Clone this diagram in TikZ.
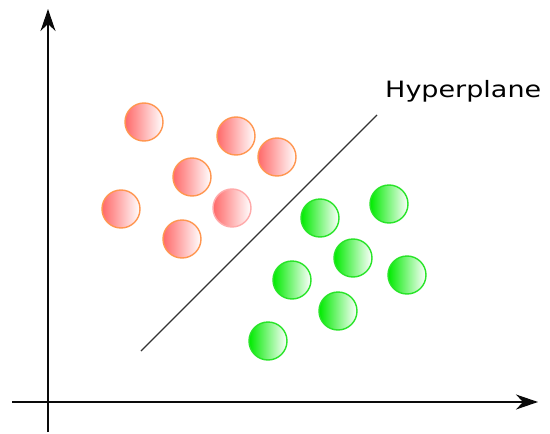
\documentclass[tikz,border=0pt]{standalone}
\usepackage{fontspec}
\setmainfont{DejaVu Sans}
\usetikzlibrary{arrows.meta}
\definecolor{redfill}{RGB}{255,105,105}
\definecolor{redline}{RGB}{255,150,80}
\definecolor{pinkline}{RGB}{255,170,170}
\definecolor{greenfill}{RGB}{0,235,0}
\definecolor{greenline}{RGB}{40,228,40}
\definecolor{axiscol}{RGB}{10,10,10}
\tikzset{
  redball/.style={circle, minimum size=38pt, inner sep=0pt, draw=redline, line width=1.4pt, left color=redfill, right color=white},
  greenball/.style={circle, minimum size=38pt, inner sep=0pt, draw=greenline, line width=1.4pt, left color=greenfill, right color=white},
  axisline/.style={draw=axiscol, line width=1.3pt, -{Stealth[length=22pt,width=15pt,inset=7pt]}},
  hyper/.style={draw=black!80, line width=1.2pt}
}
\begin{document}
\begin{tikzpicture}[x=1pt,y=-1pt]
\useasboundingbox (0,0) rectangle (550,434);
% axes
\coordinate (ystart) at (48,432);
\coordinate (yend) at (48,9);
\coordinate (xstart) at (12,402);
\coordinate (xend) at (538,402);
\draw[axisline] (ystart) -- (yend);
\draw[axisline] (xstart) -- (xend);
% hyperplane
\coordinate (hA) at (141,351);
\coordinate (hB) at (377,115);
\draw[hyper] (hA) -- (hB);
\node[anchor=base west, inner sep=0pt, font=\fontsize{22.5}{26}\selectfont] (lbl) at (385,97.5) {\scalebox{1.2}[1]{Hyperplane}};
% red balls
\node[redball] (r1) at (144,122) {};
\node[redball] (r2) at (236,136) {};
\node[redball] (r3) at (277,157) {};
\node[redball] (r4) at (192,177) {};
\node[redball] (r5) at (121,209) {};
\node[redball, draw=pinkline] (r6) at (232,208) {};
\node[redball] (r7) at (182,239) {};
% green balls
\node[greenball] (g1) at (320,218) {};
\node[greenball] (g2) at (389,204) {};
\node[greenball] (g3) at (353,258) {};
\node[greenball] (g4) at (292,280) {};
\node[greenball] (g5) at (407,275) {};
\node[greenball] (g6) at (338,311) {};
\node[greenball] (g7) at (268,341) {};
\end{tikzpicture}
\end{document}
